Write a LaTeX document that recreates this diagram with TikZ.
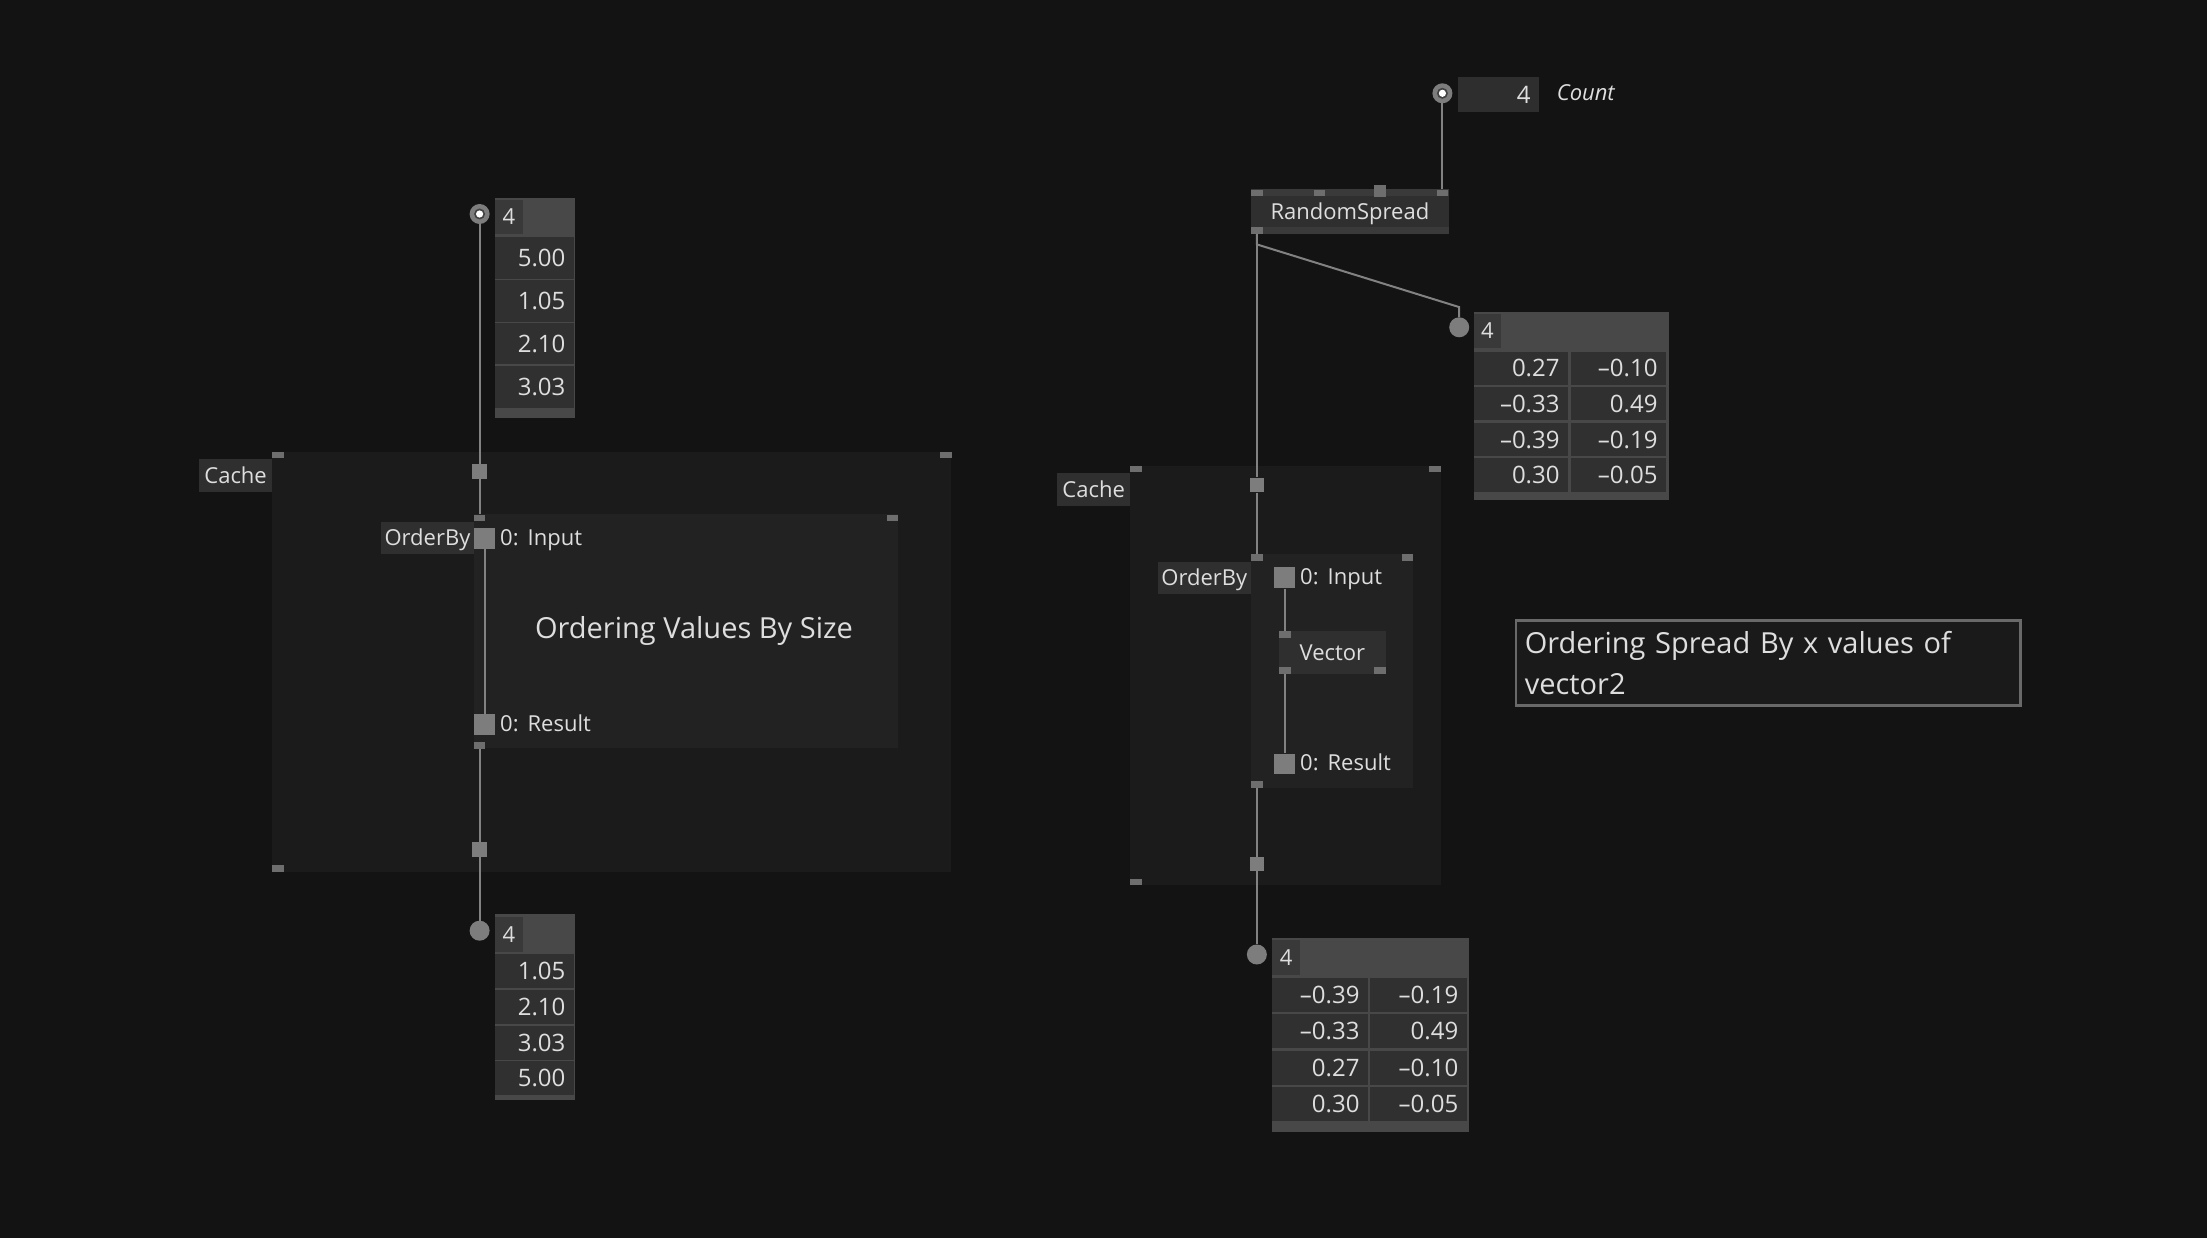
\documentclass[tikz,border=0pt]{standalone}
\usepackage{fontspec}
\setmainfont{Open Sans}
\usepackage{tikz}
\usetikzlibrary{positioning,calc}
\usepackage{xcolor}
\definecolor{bgcol}{RGB}{19,19,19}
\definecolor{regioncol}{RGB}{27,27,27}
\definecolor{subcol}{RGB}{34,34,34}
\definecolor{lblcol}{RGB}{47,47,47}
\definecolor{stripcol}{RGB}{58,58,58}
\definecolor{hdrcol}{RGB}{72,72,72}
\definecolor{cntcol}{RGB}{57,57,57}
\definecolor{cntbox}{RGB}{46,46,46}
\definecolor{cellcol}{RGB}{48,48,48}
\definecolor{pincol}{RGB}{125,125,125}
\definecolor{cornercol}{RGB}{110,110,110}
\definecolor{wirecol}{RGB}{130,130,130}
\definecolor{txtcol}{RGB}{222,222,222}
\definecolor{framecol}{RGB}{105,105,105}
\definecolor{cmtfill}{RGB}{26,26,26}
\newcommand\lblfont{\fontsize{22pt}{26pt}\selectfont}
\newcommand\numfont{\fontsize{24pt}{28pt}\selectfont}
\newcommand\cmtfont{\fontsize{29pt}{41.6pt}\selectfont}
\tikzset{
  region/.style={fill=regioncol,draw=none,inner sep=0pt},
  subregion/.style={fill=subcol,draw=none,inner sep=0pt},
  tag/.style={fill=lblcol,text=txtcol,font=\lblfont,inner sep=0pt,
              text height=15.7pt,text depth=0pt},
  cornerpin/.style={fill=cornercol,minimum width=11.7pt,minimum height=6.8pt,inner sep=0pt},
  portbox/.style={fill=pincol,inner sep=0pt},
  wire/.style={draw=wirecol,line width=2pt},
  iopin/.style={circle,fill=pincol,minimum size=20pt,inner sep=0pt},
  ioframe/.style={fill=hdrcol,inner sep=0pt},
  countcell/.style={fill=cntcol,text=txtcol,font=\lblfont,inner sep=0pt,
              text height=15.7pt,text depth=0pt},
  valcell/.style={fill=cellcol,text=txtcol,font=\numfont,inner xsep=8.5pt,inner ysep=0pt,
              align=right,text height=17.1pt,text depth=0pt},
  txt/.style={text=txtcol,font=\lblfont,inner sep=0pt,text height=15.7pt,text depth=0pt},
  bigtxt/.style={text=txtcol,font=\cmtfont,inner sep=0pt,text height=20.7pt,text depth=0pt},
  cmtbox/.style={draw=framecol,line width=2.5pt,fill=cmtfill,text=txtcol,font=\cmtfont,
              align=left,inner xsep=8.6pt,inner ysep=0pt},
}
\begin{document}
\begin{tikzpicture}[x=1pt,y=-1pt]
  \useasboundingbox (0,0) rectangle (2207,1238);
  \fill[bgcol] (0,0) rectangle (2207,1238);
  % left patch: cache region
  \node[region,minimum width=679.6pt,minimum height=420pt] (cacheL) at (611.6,661.7) {};
  \node[tag,minimum width=72.4pt,minimum height=32.4pt] (cacheLtag) at (235.6,475.5) {Cache};
  \node[cornerpin] (cLtl) at (278,455) {};
  \node[cornerpin] (cLtr) at (945.7,455) {};
  \node[cornerpin] (cLbl) at (278,868.3) {};
  \node[portbox,minimum size=14.7pt] (cLin) at (479.6,471.7) {};
  \node[portbox,minimum size=14.7pt] (cLout) at (479.6,849.5) {};
  % left orderby
  \node[subregion,minimum width=424pt,minimum height=234pt] (ordL) at (686.4,631.3) {};
  \node[tag,minimum width=93.9pt,minimum height=32.6pt] (ordLtag) at (427.45,538) {OrderBy};
  \node[cornerpin] (oLtl) at (479.6,518) {};
  \node[cornerpin] (oLtr) at (892.5,518) {};
  \node[cornerpin] (oLbl) at (479.6,745.4) {};
  \node[portbox,minimum size=20.5pt] (inL) at (484.6,538.7) {};
  \node[portbox,minimum size=20.5pt] (resL) at (484.6,724.3) {};
  \node[txt,anchor=west] (inLtxt) at (500,538) {0:\hspace{9pt}Input};
  \node[txt,anchor=west] (resLtxt) at (500,724) {0:\hspace{9pt}Result};
  \node[bigtxt] (noteL) at (694,628) {Ordering Values By Size};
  % left input values
  \node[iopin] (pinT) at (479.6,214) {};
  \node[ioframe,minimum width=80.6pt,minimum height=220.6pt] (valsT) at (535.1,308) {};
  \node[countcell,minimum width=28pt,minimum height=34pt] (valsTn) at (508.85,217) {4};
  \foreach \y/\v [count=\i] in {258.2/5.00,300.9/1.05,343.5/2.10,386.9/3.03}
    {\node[valcell,text width=62.1pt,minimum height=41.5pt] (valsT\i) at (534.35,\y) {\v};}
  % left output values
  \node[iopin] (pinB) at (479.6,930.7) {};
  \node[ioframe,minimum width=80.6pt,minimum height=185.7pt] (valsB) at (535.1,1007.2) {};
  \node[countcell,minimum width=28pt,minimum height=35pt] (valsBn) at (508.85,934.2) {4};
  \foreach \y/\v [count=\i] in {971.3/1.05,1006.7/2.10,1042.5/3.03,1078/5.00}
    {\node[valcell,text width=62.1pt,minimum height=34pt] (valsB\i) at (534.35,\y) {\v};}
  \draw[wire] (pinT.south) -- (cLin.north);
  \draw[wire] (cLin.south) -- (oLtl.north);
  \draw[wire] (inL.south) -- (resL.north);
  \draw[wire] (oLbl.south) -- (cLout.north);
  \draw[wire] (cLout.south) -- (pinB.north);
  % right patch: count and spread
  \node[iopin] (cntpin) at (1442.4,93.3) {};
  \node[valcell,fill=cntbox,text width=64.7pt,minimum height=34.4pt] (cnt) at (1498.35,94.5) {4};
  \node[txt,font=\lblfont\itshape,anchor=west] (cntname) at (1556.6,92.3) {Count};
  \node[tag,minimum width=197.8pt,minimum height=44.4pt] (rs) at (1349.9,211.5) {RandomSpread};
  \fill[stripcol] (rs.north west) rectangle ([yshift=-7.4pt]rs.north east);
  \fill[stripcol] ([yshift=7pt]rs.south west) rectangle (rs.south east);
  \node[cornerpin] (rsi1) at (1256.85,193) {};
  \node[cornerpin] (rsi2) at (1319.5,193) {};
  \node[cornerpin,minimum height=11.7pt] (rsi3) at (1380,190.85) {};
  \node[cornerpin] (rsi4) at (1442.4,193) {};
  \node[cornerpin] (rso1) at (1256.85,230.2) {};
  % spread values
  \node[iopin] (spin) at (1459.2,327.3) {};
  \node[ioframe,minimum width=194.9pt,minimum height=188.3pt] (sprd) at (1571.15,405.85) {};
  \node[countcell,minimum width=27.3pt,minimum height=34pt] (sprdn) at (1487.35,331) {4};
  \foreach \y/\a/\b [count=\i] in {368.3/0.27/–0.10,403.7/–0.33/0.49,439.5/–0.39/–0.19,475/0.30/–0.05}
    {\node[valcell,text width=77.3pt,minimum height=33.5pt] (sprda\i) at (1520.9,\y) {\a};
     \node[valcell,text width=78pt,minimum height=33.5pt] (sprdb\i) at (1618.5,\y) {\b};}
  % right cache region
  \node[region,minimum width=311pt,minimum height=419.7pt] (cacheR) at (1285.5,675.45) {};
  \node[tag,minimum width=72.7pt,minimum height=32.6pt] (cacheRtag) at (1093.65,489.5) {Cache};
  \node[cornerpin] (cRtl) at (1135.85,469) {};
  \node[cornerpin] (cRtr) at (1435.15,469) {};
  \node[cornerpin] (cRbl) at (1135.85,882) {};
  \node[portbox,minimum width=13.7pt,minimum height=14.7pt] (cRin) at (1256.85,485) {};
  \node[portbox,minimum width=13.7pt,minimum height=13.5pt] (cRout) at (1256.85,863.75) {};
  % right orderby
  \node[subregion,minimum width=162.3pt,minimum height=234pt] (ordR) at (1332.15,671) {};
  \node[tag,minimum width=93.3pt,minimum height=32.2pt] (ordRtag) at (1204.35,577.7) {OrderBy};
  \node[cornerpin] (oRtl) at (1256.85,557.35) {};
  \node[cornerpin] (oRtr) at (1407.5,557.35) {};
  \node[cornerpin] (oRbl) at (1256.85,784.6) {};
  \node[portbox,minimum size=21pt] (inR) at (1284.7,577.9) {};
  \node[portbox,minimum size=20.5pt] (resR) at (1284.7,763.8) {};
  \node[txt,anchor=west] (inRtxt) at (1300,577) {0:\hspace{9pt}Input};
  \node[txt,anchor=west] (resRtxt) at (1300,763) {0:\hspace{9pt}Result};
  \node[tag,minimum width=106.7pt,minimum height=43.2pt] (vec) at (1332.35,652.4) {Vector};
  \node[cornerpin] (vtl) at (1284.7,634.15) {};
  \node[cornerpin] (vbl) at (1284.7,670.7) {};
  \node[cornerpin] (vbr) at (1379.85,670.7) {};
  % sorted spread
  \node[iopin] (outpin) at (1256.85,954.5) {};
  \node[ioframe,minimum width=196.7pt,minimum height=194pt] (srt) at (1370.65,1035) {};
  \node[countcell,minimum width=27.7pt,minimum height=34.4pt] (srtn) at (1286.15,957.4) {4};
  \foreach \y/\a/\b [count=\i] in {994.8/–0.39/–0.19,1030.9/–0.33/0.49,1067.6/0.27/–0.10,1104/0.30/–0.05}
    {\node[valcell,text width=78.7pt,minimum height=33.8pt] (srta\i) at (1320.15,\y) {\a};
     \node[valcell,text width=79.7pt,minimum height=33.8pt] (srtb\i) at (1418.35,\y) {\b};}
  \draw[wire] (cntpin.south) -- (rsi4.north);
  \draw[wire] (rso1.south) -- (cRin.north);
  \draw[wire] (rso1.south) -- ++(0,10.6) -- ([yshift=10pt]spin.north) -- (spin.north);
  \draw[wire] (cRin.south) -- (oRtl.north);
  \draw[wire] (inR.south) -- (vtl.north);
  \draw[wire] (vbl.south) -- (resR.north);
  \draw[wire] (oRbl.south) -- (cRout.north);
  \draw[wire] (cRout.south) -- (outpin.north);
  % input pins with a dot
  \foreach \p in {pinT,cntpin}
    {\fill[bgcol!80] (\p) circle[radius=5.5pt];
     \fill[white] (\p) circle[radius=3.6pt];}
  % comment
  \node[cmtbox,minimum width=504.5pt,minimum height=84.6pt,text width=487.3pt] (noteR)
    at (1768.45,663) {Ordering Spread By x values of\\vector2};
\end{tikzpicture}
\end{document}
